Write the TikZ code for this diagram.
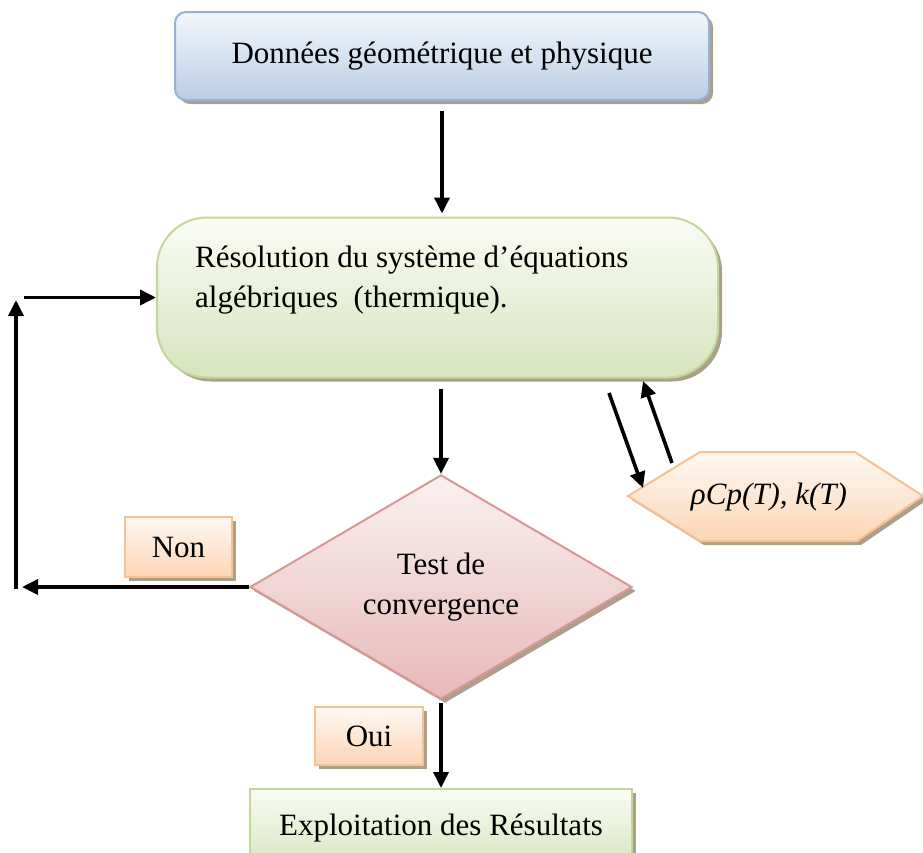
\documentclass[tikz,border=0pt]{standalone}
\usepackage{fontspec}
\setmainfont{Liberation Serif}
\usetikzlibrary{arrows.meta,shadows,calc,shapes.geometric}

\definecolor{blueTop}{HTML}{F3F7FC}
\definecolor{blueBot}{HTML}{B9CDE5}
\definecolor{blueLine}{HTML}{95B3D7}
\definecolor{greenTop}{HTML}{FAFCF5}
\definecolor{greenBot}{HTML}{D7E4BD}
\definecolor{greenLine}{HTML}{C3D69B}
\definecolor{pinkTop}{HTML}{FBF1F1}
\definecolor{pinkBot}{HTML}{E6B9B8}
\definecolor{pinkLine}{HTML}{D99694}
\definecolor{orangeTop}{HTML}{FFF9F4}
\definecolor{orangeBot}{HTML}{FCD5B5}
\definecolor{orangeLine}{HTML}{FAC090}
\definecolor{shadowCol}{HTML}{A9A18E}

\tikzset{
  boxshadow/.style={drop shadow={shadow xshift=4pt, shadow yshift=-4pt, opacity=1, fill=shadowCol}},
  bluebox/.style={boxshadow, draw=blueLine, line width=2pt, rounded corners=11pt,
    top color=blueTop, bottom color=blueBot, inner sep=0pt},
  greenbox/.style={boxshadow, draw=greenLine, line width=2pt,
    top color=greenTop, bottom color=greenBot, inner sep=0pt},
  pinkdiamond/.style={boxshadow, diamond, draw=pinkLine, line width=2pt,
    top color=pinkTop, bottom color=pinkBot, inner sep=0pt, align=center},
  orangebox/.style={boxshadow, draw=orangeLine, line width=2pt,
    top color=orangeTop, bottom color=orangeBot, inner sep=0pt},
  arr/.style={line width=3.6pt, -{Triangle[length=16pt,width=15pt]}},
}

\begin{document}
\begin{tikzpicture}[x=1pt, y=-1pt, font=\fontsize{31}{40}\selectfont]
\clip (0,0) rectangle (923,852);
\fill[white] (0,0) rectangle (923,852);

% input data
\node[bluebox, minimum width=534pt, minimum height=88pt] (data) at (442,56)
  {\raisebox{7pt}{Données géométrique et physique}};

% thermal solver
\node[greenbox, rounded corners=50pt, minimum width=561pt, minimum height=160pt]
  (res) at (437.5,297.5) {};
\node[anchor=north west, align=left, inner sep=0pt] (restext) at (195,246)
  {Résolution du système d’équations\\algébriques~ (thermique).};

% convergence test
\node[pinkdiamond, minimum width=382pt, minimum height=200pt] (test) at (441,587)
  {Test de\\convergence};

% decision labels
\node[orangebox, minimum width=107pt, minimum height=60pt] (non) at (178.5,547) {Non};
\node[orangebox, minimum width=108pt, minimum height=58pt] (oui) at (369,736) {Oui};

% results
\node[greenbox, minimum width=382pt, minimum height=80pt] (expl) at (441,829)
  {\raisebox{8pt}{Exploitation des Résultats}};

% temperature dependent properties
\path[boxshadow, draw=orangeLine, line width=2pt, top color=orangeTop, bottom color=orangeBot]
  (628,496) -- (700,452) -- (855,452) -- (923,496) -- (857,541) -- (700,541) -- cycle;
\node[font=\fontsize{31}{40}\selectfont\itshape] (prop) at (769,497) {ρCp(T), k(T)};

% main flow
\draw[arr] ($(data.south)+(0,10)$) -- ([yshift=3pt]data.south |- res.north);
\draw[arr] ($(res.south -| test.north)+(0,10)$) -- (test.north);
\draw[arr] ($(test.south)+(0,3)$) -- (expl.north);

% loop back when not converged
\coordinate (loopA) at (22,587);
\coordinate (loopB) at (16,589);
\coordinate (loopC) at (16,300);
\coordinate (loopD) at (24,297.5);
\draw[arr] (test.west) -- (loopA);
\draw[arr] (loopB) -- (loopC);
\draw[arr] (loopD) -- (res.west);

% exchange with property evaluation
\coordinate (pOut) at (609,393);
\coordinate (pIn)  at (643,488);
\coordinate (qOut) at (672,463);
\coordinate (qIn)  at (643,381);
\draw[arr] (pOut) -- (pIn);
\draw[arr] (qOut) -- (qIn);
\end{tikzpicture}
\end{document}
